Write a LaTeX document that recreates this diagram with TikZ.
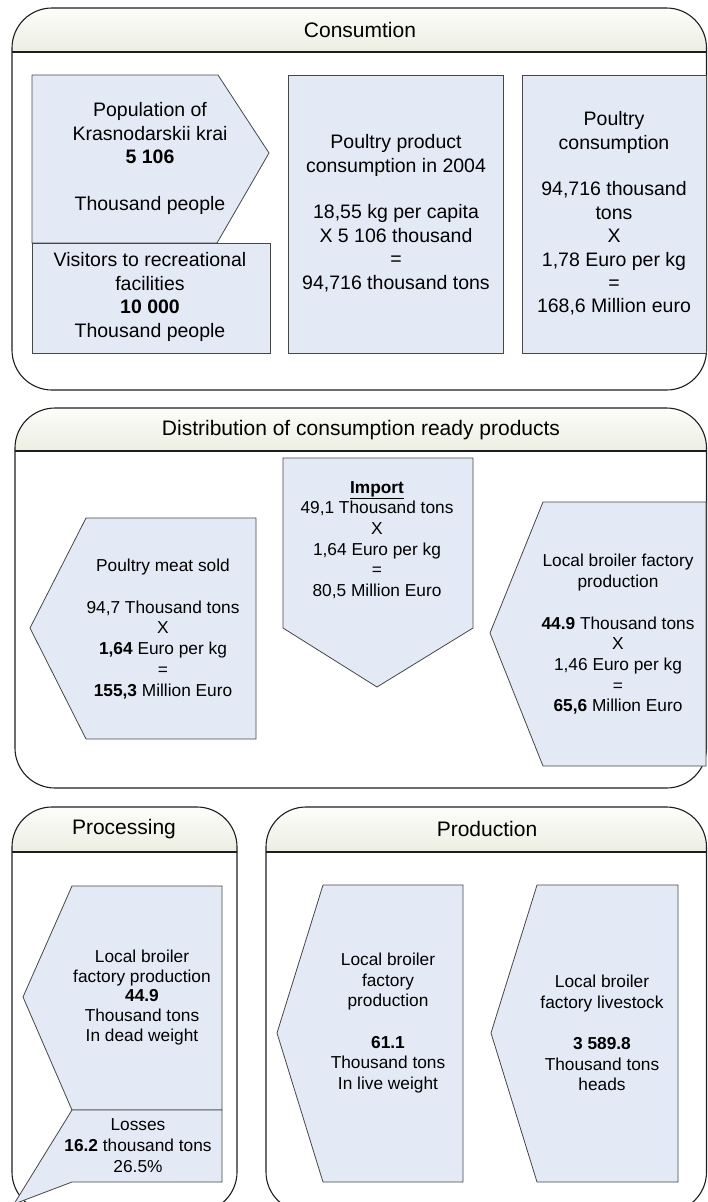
\documentclass[tikz,border=0pt]{standalone}
\usepackage{fontspec}
\setmainfont{Liberation Sans}
\definecolor{boxblue}{RGB}{228,234,245}
\definecolor{headtop}{RGB}{253,253,250}
\definecolor{headbot}{RGB}{236,237,226}
\definecolor{boxline}{RGB}{70,70,70}
\definecolor{panelline}{RGB}{30,30,30}
% container with a shaded title band
\newcommand{\containerpanel}[5]{%
  \begin{scope}
    \clip[rounded corners=40pt] (#1,#2) rectangle (#3,#4);
    \shade[top color=headtop, bottom color=headbot] (#1,#2) rectangle (#3,#5);
  \end{scope}
  \draw[panel] (#1,#5) -- (#3,#5);
  \draw[panel, rounded corners=40pt] (#1,#2) rectangle (#3,#4);
}
\begin{document}
\begin{tikzpicture}[x=1pt, y=-1pt,
  panel/.style={draw=panelline, line width=1.1pt},
  box/.style={draw=boxline, line width=0.8pt, fill=boxblue},
  bigtxt/.style={align=center, font=\fontsize{19.5}{23.4}\selectfont, inner sep=0pt},
  smalltxt/.style={align=center, font=\fontsize{17.3}{20.7}\selectfont, inner sep=0pt},
  headtxt/.style={font=\fontsize{21}{25}\selectfont, inner sep=0pt}
]
\useasboundingbox (0,0) rectangle (708,1202);
\clip (0,0) rectangle (708,1202);

% ---------- containers ----------
\containerpanel{12}{8}{706.5}{390}{52}
\containerpanel{15}{408}{706.5}{788}{451}
\containerpanel{12}{807}{237}{1212}{852}
\containerpanel{266}{807}{706.5}{1212}{852}

\node[headtxt] (hcons) at (360,30) {Consumtion};
\node[headtxt] (hdist) at (361,430) {Distribution of consumption ready products};
\node[headtxt] (hproc) at (124,829) {Processing};
\node[headtxt] (hprod) at (487,829) {Production};

% ---------- consumption ----------
\draw[box] (32,75) -- (218,75) -- (269,153) -- (217,243) -- (32,243) -- cycle;
\draw[box] (32,243) rectangle (270,353);
\draw[box] (288,75) rectangle (503,353);
\draw[box] (522,75) rectangle (706,353);

\node[bigtxt] (population) at (150,158.5)
  {Population of\\Krasnodarskii krai\\\textbf{5 106}\\[23.4pt]Thousand people};
\node[bigtxt] (visitors) at (150,297)
  {Visitors to recreational\\facilities\\\textbf{10 000}\\Thousand people};
\node[bigtxt] (percapita) at (396,213)
  {Poultry product\\consumption in 2004\\[23.4pt]18,55 kg per capita\\X 5 106 thousand\\=\\94,716 thousand tons};
\node[bigtxt] (consvalue) at (614,213.5)
  {Poultry\\consumption\\[23.4pt]94,716 thousand\\tons\\X\\1,78 Euro per kg\\=\\168,6 Million euro};

% ---------- distribution ----------
\draw[box] (86,518) -- (256,518) -- (256,739) -- (86,739) -- (30,628) -- cycle;
\draw[box] (283,458) -- (473,458) -- (473,628) -- (377,687) -- (283,628) -- cycle;
\draw[box] (543,502) -- (706,502) -- (706,766) -- (543,766) -- (490,633) -- cycle;

\node[smalltxt] (sold) at (163,629)
  {Poultry meat sold\\[20.7pt]94,7 Thousand tons\\X\\\textbf{1,64} Euro per kg\\=\\\textbf{155,3} Million Euro};
\node[smalltxt] (import) at (377,540)
  {\underline{\textbf{Import}}\\49,1 Thousand tons\\X\\1,64 Euro per kg\\=\\80,5 Million Euro};
\node[smalltxt] (localdist) at (618,634.5)
  {Local broiler factory\\production\\[20.7pt]\textbf{44.9} Thousand tons\\X\\1,46 Euro per kg\\=\\\textbf{65,6} Million Euro};

% ---------- processing ----------
\draw[box] (72,886) -- (222,886) -- (222,1110) -- (72,1110) -- (23,997) -- cycle;
\draw[box] (72,1110) -- (222,1110) -- (222,1182) -- (72,1182) -- (14,1204) -- cycle;

\node[smalltxt, font=\fontsize{17.3}{19.8}\selectfont] (deadweight) at (142,997.5)
  {Local broiler\\factory production\\\textbf{44.9}\\Thousand tons\\In dead weight};
\node[smalltxt, font=\fontsize{17.3}{21}\selectfont] (losses) at (138,1146)
  {Losses\\\textbf{16.2} thousand tons\\26.5\%};

% ---------- production ----------
\draw[box] (323,885) -- (463,885) -- (463,1182) -- (323,1182) -- (277,1033) -- cycle;
\draw[box] (537,885) -- (678,885) -- (678,1182) -- (537,1182) -- (491,1033) -- cycle;

\node[smalltxt] (liveweight) at (388,1023)
  {Local broiler\\factory\\production\\[20.7pt]\textbf{61.1}\\Thousand tons\\In live weight};
\node[smalltxt] (livestock) at (602,1033)
  {Local broiler\\factory livestock\\[20.7pt]\textbf{3 589.8}\\Thousand tons\\heads};
\end{tikzpicture}
\end{document}
